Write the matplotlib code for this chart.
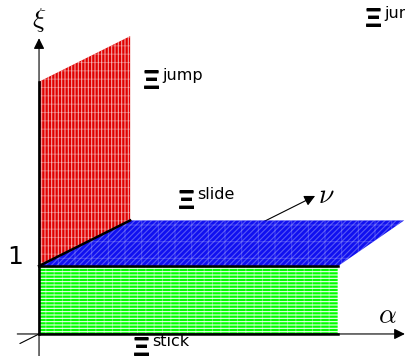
import matplotlib
matplotlib.use('Agg')
import matplotlib.pyplot as plt
from matplotlib.patches import Polygon

plt.rcParams['mathtext.fontset'] = 'cm'
plt.rcParams['hatch.linewidth'] = 0.8

# regions of the (alpha, nu, xi) space
alpha_end = 4.40        # end of stick / slide regions on alpha axis
alpha_far = 4.03        # far edge of slide plane (nu = 1)
xi_one = 1.0            # stick/slide threshold
xi_top = 3.71           # top of jump region drawn
nu_dir = (1.34, 0.67)   # oblique projection of the nu axis
nu_axis = (-0.21, 3.03)

labels = ['jump', 'slide', 'stick', 'jump']
label_pos = [(1.53, 3.72), (2.04, 1.96), (1.38, -0.2), (4.79, 4.63)]


def proj(a, n, x):
    return (a + nu_dir[0] * n, x + nu_dir[1] * n)


fig = plt.figure(figsize=(4.06, 3.56), dpi=100)
ax = fig.add_axes([0, 0, 1, 1])
ax.set_xlim(-0.574, 5.397)
ax.set_ylim(-0.324, 4.912)
ax.axis('off')

# nu axis (behind everything)
p0 = proj(0, nu_axis[0], 0)
p1 = proj(0, nu_axis[1], 0)
ax.annotate('', xy=p1, xytext=p0, zorder=1,
            arrowprops=dict(arrowstyle='-|>', color='black', lw=0.8,
                            mutation_scale=16, shrinkA=0, shrinkB=0))
ax.text(4.22, 2.04, r'$\nu$', fontsize=20, ha='center', va='center')

# stick region
stick = [proj(0, 0, 0), proj(alpha_end, 0, 0), proj(alpha_end, 0, xi_one), proj(0, 0, xi_one)]
ax.add_patch(Polygon(stick, closed=True, facecolor='#00ff00', edgecolor=(1, 1, 1, 0.95),
                     lw=0, hatch='-----', zorder=2))
ax.add_patch(Polygon(stick, closed=True, facecolor='none', edgecolor=(1, 1, 1, 0.35),
                     lw=0, hatch='||', zorder=2))

# slide region
slide = [proj(0, 0, xi_one), proj(alpha_end, 0, xi_one), proj(alpha_far, 1, xi_one), proj(0, 1, xi_one)]
ax.add_patch(Polygon(slide, closed=True, facecolor='#1010f0', edgecolor=(1, 1, 1, 0.3),
                     lw=0, hatch='//////', zorder=2))
ax.add_patch(Polygon(slide, closed=True, facecolor='none', edgecolor=(1, 1, 1, 0.2),
                     lw=0, hatch='+', zorder=2))

# jump region
jump = [proj(0, 0, xi_one), proj(0, 1, xi_one), proj(0, 1, xi_top), proj(0, 0, xi_top)]
ax.add_patch(Polygon(jump, closed=True, facecolor='#e00000', edgecolor=(1, 1, 1, 0.65),
                     lw=0, hatch='|||||', zorder=2))
ax.add_patch(Polygon(jump, closed=True, facecolor='none', edgecolor=(1, 1, 1, 0.3),
                     lw=0, hatch='--', zorder=2))

# region borders
ax.plot([0, 0], [0, xi_top], color='black', lw=1.8, zorder=3)
ax.plot(*zip(proj(0, 0, xi_one), proj(0, 1, xi_one)), color='black', lw=1.8, zorder=3)
ax.plot([0, alpha_end], [xi_one, xi_one], color='black', lw=1.8, zorder=3)
ax.plot([0, alpha_end], [0, 0], color='black', lw=1.8, zorder=3)

# alpha and xi axes
ax.annotate('', xy=(5.38, 0), xytext=(-0.32, 0), zorder=4,
            arrowprops=dict(arrowstyle='-|>', color='black', lw=0.8,
                            mutation_scale=16, shrinkA=0, shrinkB=0))
ax.annotate('', xy=(0, 4.35), xytext=(0, -0.35), zorder=4,
            arrowprops=dict(arrowstyle='-|>', color='black', lw=0.8,
                            mutation_scale=16, shrinkA=0, shrinkB=0))
ax.text(5.13, 0.28, r'$\alpha$', fontsize=20, ha='center', va='center')
ax.text(0, 4.62, r'$\xi$', fontsize=20, ha='center', va='center')
ax.text(-0.35, 1.13, '1', fontsize=18, ha='center', va='center')

for name, (x, y) in zip(labels, label_pos):
    # the big Xi drawn twice, one pixel apart, for heavier bars
    for dy in (0, -0.8):
        ax.annotate('Ξ', xy=(x, y), xytext=(0, dy), textcoords='offset points',
                    fontsize=19, fontweight='bold', family='Liberation Sans',
                    ha='left', va='center', zorder=5, annotation_clip=False)
    ax.annotate(name, xy=(x, y), xytext=(14, 1), textcoords='offset points',
                fontsize=11.5, ha='left', va='baseline', zorder=5, annotation_clip=False)

fig.savefig('out.png', dpi=100)
